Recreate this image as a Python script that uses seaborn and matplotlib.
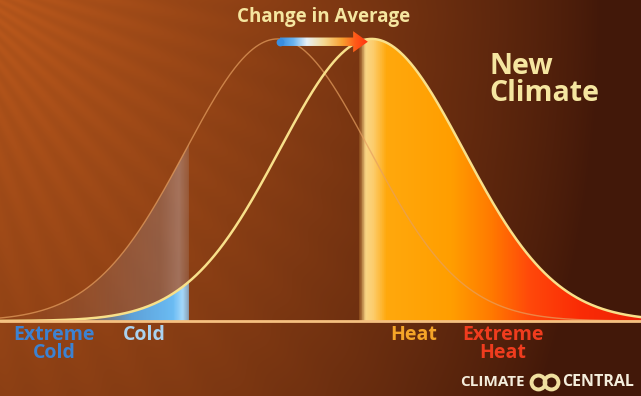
import numpy as np
import pandas as pd
import seaborn as sns
import matplotlib.pyplot as plt
from matplotlib import colors, patches

# bell curves, in units of the old climate's standard deviation
old_mean = 0.0
new_mean = 1.02
spread = 1.0
old_peak = 1.0
new_peak = 1.0
cold_limit = -0.96
heat_limit = 0.87
temp_range = (-3.02, 3.95)

region_labels = ["Extreme\nCold", "Cold", "Heat", "Extreme\nHeat"]
region_colors = ["#3c82d2", "#aad2f0", "#f5a528", "#f03c1e"]
label_pos = [-2.43, -1.45, 1.48, 2.45]

arrow_start = 0.02
arrow_end = 0.98
arrow_level = 0.99


def bell(t, mean, peak):
    return peak * np.exp(-0.5 * ((t - mean) / spread) ** 2)


def gradient_fill(ax, x, ylow, yhigh, stops, zorder):
    poly = ax.fill_between(x, ylow, yhigh, facecolor='none', edgecolor='none')
    cmap = colors.LinearSegmentedColormap.from_list('grad', stops)
    im = ax.imshow(np.linspace(0, 1, 400)[None, :], cmap=cmap, aspect='auto',
                   extent=(x[0], x[-1], 0, 1.1), zorder=zorder)
    im.set_clip_path(poly.get_paths()[0], transform=ax.transData)
    return im


sns.set_theme(style='white')
plt.rcParams['font.family'] = ['Open Sans', 'DejaVu Sans']

t = np.linspace(temp_range[0], temp_range[1], 700)
df = pd.DataFrame({"temp": t,
                   "old": bell(t, old_mean, old_peak),
                   "new": bell(t, new_mean, new_peak)})

fig = plt.figure(figsize=(6.41, 3.96), dpi=100)
ax = fig.add_axes([0, 0, 1, 1])
ylim = (-0.266, 1.138)

# background glow with faint rays from the top-left
H, W = 396, 641
yy, xx = np.mgrid[0:H, 0:W]
d = np.sqrt((xx / 600.0) ** 2 + (yy / 900.0) ** 2)
f = np.clip(1 - d, 0, 1) ** 0.8
ang = np.arctan2(yy + 40, xx + 80)
rays = 1 + 0.025 * np.sin(ang * 70) * f ** 2
bright = np.array([182, 86, 27]) / 255
dark = np.array([66, 24, 9]) / 255
bg = dark + (bright - dark) * f[..., None]
bg = np.clip(bg * rays[..., None], 0, 1)
ax.imshow(bg, extent=(temp_range[0], temp_range[1], ylim[0], ylim[1]),
          origin='upper', aspect='auto', zorder=0)

# cold side: shaded gap between curves and blue area under the new curve
cold = df[df.temp <= cold_limit]
gradient_fill(ax, cold.temp.values, cold.new.values, cold.old.values,
              [(0, (0.55, 0.42, 0.38, 0.0)), (0.4, (0.58, 0.45, 0.42, 0.22)),
               (0.85, (0.60, 0.48, 0.45, 0.5)), (0.95, (0.70, 0.58, 0.55, 0.6)),
               (1, (0.66, 0.54, 0.50, 0.35))], 2)
gradient_fill(ax, cold.temp.values, np.zeros(len(cold)), cold.new.values,
              [(0, (0.45, 0.55, 0.7, 0.0)), (0.45, (0.40, 0.60, 0.80, 0.3)),
               (0.7, (0.35, 0.68, 0.94, 0.9)), (0.92, (0.42, 0.74, 0.96, 1)),
               (0.97, (0.65, 0.85, 0.98, 1)), (1, (0.55, 0.75, 0.90, 0.8))], 2)

# heat side
hot = df[df.temp >= heat_limit]
gradient_fill(ax, hot.temp.values, np.zeros(len(hot)), hot.new.values,
              [(0, (0.55, 0.30, 0.12)), (0.021, (0.98, 0.84, 0.52)),
               (0.049, (0.99, 0.80, 0.42)), (0.095, (1.0, 0.66, 0.05)),
               (0.325, (1.0, 0.62, 0.0)), (0.466, (1.0, 0.48, 0.0)),
               (0.608, (1.0, 0.28, 0.04)), (0.784, (0.98, 0.17, 0.02)),
               (1, (0.93, 0.13, 0.02))], 2)

sns.lineplot(data=df, x="temp", y="old", ax=ax, color='#e6a060', alpha=0.7,
             lw=1.0, zorder=3)
sns.lineplot(data=df, x="temp", y="new", ax=ax, color='#f8e08a', lw=1.8,
             zorder=4)
ax.axhline(0, color='#f5c080', lw=2, zorder=5)

# change in average arrow
arrow = patches.FancyArrow(arrow_start, arrow_level, arrow_end - arrow_start, 0,
                           width=0.03, head_width=0.075, head_length=0.16,
                           length_includes_head=True, fill=False,
                           edgecolor='none')
ax.add_patch(arrow)
acmap = colors.LinearSegmentedColormap.from_list(
    'arr', [(0, '#3a8ee0'), (0.15, '#6ab4f0'), (0.3, '#e8f0f5'),
            (0.5, '#f5d890'), (0.7, '#f8a030'), (0.85, '#ff5a18'),
            (1, '#ff3010')])
aim = ax.imshow(np.linspace(0, 1, 300)[None, :], cmap=acmap, aspect='auto',
                extent=(arrow_start, arrow_end, 0.9, 1.08), zorder=6)
aim.set_clip_path(arrow)
ax.plot([arrow_start], [arrow_level], 'o', color='#3a8ee0', ms=5.6,
        mec='none', zorder=6)

ax.set_xlim(*temp_range)
ax.set_ylim(*ylim)
ax.set_axis_off()

for lab, col, xp in zip(region_labels, region_colors, label_pos):
    ax.text(xp, -0.015, lab, color=col, fontsize=14, fontweight='bold',
            ha='center', va='top', linespacing=0.88, zorder=7)

fig.text(0.505, 0.958, 'Change in Average', color='#f5e6a0', fontsize=13.5,
         fontweight='bold', ha='center', va='center')
fig.text(0.764, 0.798, 'New\nClimate', color='#f5e6a0', fontsize=20.5,
         fontweight='bold', ha='left', va='center', linespacing=0.95)

# logo
fig.text(0.819, 0.035, 'CLIMATE', color='#f5eedd', fontsize=11,
         fontweight='bold', ha='right', va='center')
fig.text(0.877, 0.035, 'CENTRAL', color='#f5eedd', fontsize=11.5,
         fontweight='bold', ha='left', va='center')
ax.plot([0.839, 0.860], [0.035, 0.035], 'o', transform=ax.transAxes,
        ms=10, mfc='none', mec='#f0e0a0', mew=2.8, zorder=7)

fig.savefig('out.png', dpi=100)
